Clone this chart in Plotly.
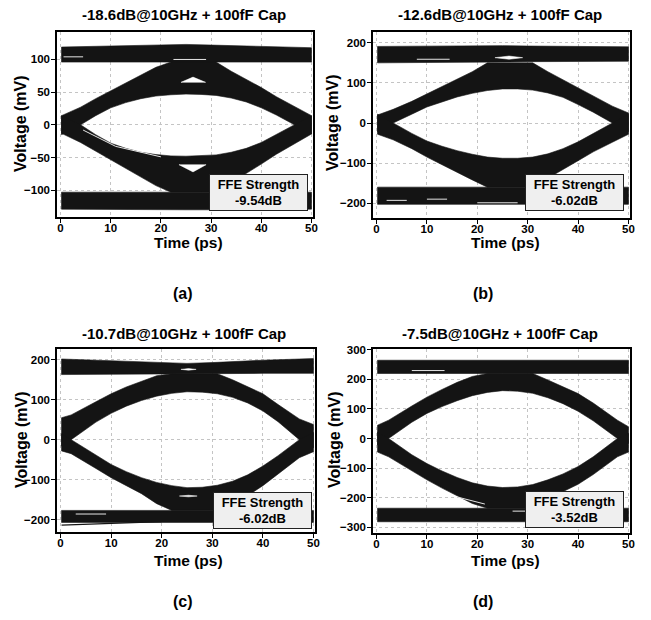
import plotly.graph_objects as go

W, H = 651, 620

# ---------------- data (mV vs ps) ----------------
TITLES = ["-18.6dB@10GHz + 100fF Cap", "-12.6dB@10GHz + 100fF Cap",
          "-10.7dB@10GHz + 100fF Cap", "-7.5dB@10GHz + 100fF Cap"]
FFE_VALUES = ["-9.54dB", "-6.02dB", "-6.02dB", "-3.52dB"]
PANEL_LABELS = ["(a)", "(b)", "(c)", "(d)"]
X_TICKS = [0, 10, 20, 30, 40, 50]
A_YTICKS = [-100, -50, 0, 50, 100]
B_YTICKS = [-200, -100, 0, 100, 200]
C_YTICKS = [-200, -100, 0, 100, 200]
D_YTICKS = [-300, -200, -100, 0, 100, 200, 300]

BAND_T = [0.2, 10, 20, 25, 30, 40, 50]

# Panel (a)
A_T = [0.2, 4, 7, 10, 13, 16, 19, 22, 25, 28, 31, 34, 37, 40, 43, 46.6, 50]
A_LID_TOP = [14, 27, 40, 52, 64, 76, 88, 96, 96, 96, 96, 82, 70, 57, 43, 28, 14]
A_EYE_TOP = [-15, 0, 14, 26, 34, 40, 44, 46, 47, 46.5, 45, 41, 35, 26, 15, 0, -14]
A_EYE_BOT = [14, 0, -15, -28, -36, -42, -45.5, -47.5, -48, -47.5, -46, -42, -36, -27, -15, 0, 14]
A_LID_BOT = [-13, -27, -40, -54, -67, -80, -93, -103, -103, -103, -103, -88, -74, -60, -45, -29, -14]
A_HI_TOP = [119, 121, 122, 123, 122, 120, 118]
A_HI_BOT = [96, 96, 96, 96, 96, 96, 96]
A_LO_TOP = [-103, -103, -103, -103, -103, -103, -103]
A_LO_BOT = [-129, -130, -130, -130, -130, -130, -129]
A_GAP_X = [[24.0, 26.4, 28.9], [23.6, 26.4, 29.0]]
A_GAP_Y = [[65, 73, 65], [-61, -72, -61]]
A_STREAK_T = [[0.6, 4.5], [22.5, 29], [4.5, 11, 20]]
A_STREAK_V = [[104, 104], [100, 100], [-8, -33, -49]]

# Panel (b)
B_T = [0.2, 3.3, 7, 10, 13, 16, 19, 22, 25, 28, 31, 34, 37, 40, 43, 46.8, 50]
B_LID_TOP = [20, 34, 54, 72, 90, 108, 128, 150, 150, 150, 150, 128, 108, 88, 66, 42, 25]
B_EYE_TOP = [-22, 0, 22, 40, 53, 65, 74, 81, 85, 85, 82, 75, 64, 46, 27, 0, -22]
B_EYE_BOT = [22, 0, -26, -45, -58, -69, -78, -85, -88, -88, -85, -77, -64, -47, -27, 0, 22]
B_LID_BOT = [-28, -42, -64, -85, -104, -122, -142, -160, -160, -160, -160, -138, -115, -94, -72, -48, -28]
B_HI_TOP = [191, 192, 193, 193, 192, 191, 190]
B_HI_BOT = [150, 151, 152, 152, 153, 154, 154]
B_LO_TOP = [-160, -160, -160, -160, -160, -160, -160]
B_LO_BOT = [-203, -203, -203, -203, -203, -203, -203]
B_GAP_X = [[23.5, 26.3, 29.0, 26.3]]
B_GAP_Y = [[163, 167, 163, 159]]
B_STREAK_T = [[8, 14.5], [2, 6], [10, 14], [20, 28]]
B_STREAK_V = [[159, 159], [-193, -193], [-190, -190], [-199, -199]]

# Panel (c)
C_T = [0.2, 2.1, 7, 10, 13, 16, 19, 22, 25, 28, 31, 34, 37, 40, 43, 47.2, 50]
C_LID_TOP = [55, 62, 95, 115, 132, 147, 160, 165, 165, 165, 165, 150, 133, 115, 88, 52, 38]
C_EYE_TOP = [-16, 0, 44, 66, 84, 98, 109, 116, 120, 119, 115, 106, 92, 72, 45, 0, -20]
C_EYE_BOT = [15, 0, -40, -62, -80, -95, -107, -115, -120, -119, -114, -104, -88, -66, -40, 0, 18]
C_LID_BOT = [-28, -35, -72, -95, -115, -135, -160, -177, -177, -177, -177, -160, -140, -115, -85, -45, -30]
C_HI_TOP = [202, 198, 193, 191, 193, 199, 203]
C_HI_BOT = [163, 163, 165, 165, 165, 166, 166]
C_LO_TOP = [-177, -177, -177, -177, -177, -177, -177]
C_LO_BOT = [-207, -207, -207, -207, -207, -207, -207]
C_TAIL_T = [0.2, 10, 20]
C_TAIL_V = [-214, -210, -205]
C_GAP_X = [[23.8, 25.3, 26.8, 25.3], [23.5, 25.3, 27.0, 25.3]]
C_GAP_Y = [[176, 178, 176, 174], [-141, -139, -141, -143]]
C_STREAK_T = [[3, 9], [33, 38]]
C_STREAK_V = [[-186, -186], [-195, -195]]

# Panel (d)
D_T = [0.2, 2.4, 7, 10, 13, 16, 19, 22, 25, 28, 31, 34, 37, 40, 43, 47.8, 50]
D_LID_TOP = [45, 62, 110, 140, 166, 190, 210, 220, 220, 220, 220, 198, 176, 152, 120, 62, 40]
D_EYE_TOP = [-22, 0, 55, 85, 108, 128, 145, 156, 162, 160, 153, 138, 118, 92, 60, 0, -17]
D_EYE_BOT = [22, 0, -55, -85, -110, -132, -150, -161, -166, -164, -156, -140, -120, -95, -62, 0, 17]
D_LID_BOT = [-46, -62, -110, -140, -168, -195, -220, -236, -236, -236, -236, -205, -180, -155, -122, -62, -46]
D_HI_TOP = [265, 265, 266, 266, 266, 265, 265]
D_HI_BOT = [220, 220, 220, 220, 220, 220, 220]
D_LO_TOP = [-236, -236, -236, -236, -236, -236, -236]
D_LO_BOT = [-282, -282, -282, -282, -282, -282, -282]
D_GAP_X = []
D_GAP_Y = []
D_STREAK_T = [[7, 13.5], [16, 21.5], [27, 31]]
D_STREAK_V = [[230, 230], [-198, -222], [-246, -246]]

# ---------------- layout geometry (pixels) ----------------
DOM_PX = [(57, 313, 32, 217), (373, 630, 32, 218),
          (57, 315, 349, 532), (373, 630, 349, 533)]
Y_RANGES = [[-141, 142], [-237, 227], [-231, 227], [-320, 303]]
X_RANGE = [-0.7, 50.3]
TITLE_POS = [(184, 15), (500, 15), (184, 333), (500, 333)]
YTITLE_POS = [(21, 124), (333, 123), (21, 440), (334, 440)]
XTITLE_POS = [(188, 243), (505, 243), (188, 560), (505, 560)]
LABEL_POS = [(183, 293), (483, 293), (183, 601), (483, 601)]
BOX_POS = [(258, 192), (574, 192), (262, 510), (574, 509)]

BLACK = "#141414"
FONT = "Liberation Sans, Arial, sans-serif"

panels = [
    (A_T, A_LID_TOP, A_EYE_TOP, A_EYE_BOT, A_LID_BOT, A_HI_TOP, A_HI_BOT, A_LO_TOP, A_LO_BOT,
     A_GAP_X, A_GAP_Y, A_STREAK_T, A_STREAK_V, A_YTICKS),
    (B_T, B_LID_TOP, B_EYE_TOP, B_EYE_BOT, B_LID_BOT, B_HI_TOP, B_HI_BOT, B_LO_TOP, B_LO_BOT,
     B_GAP_X, B_GAP_Y, B_STREAK_T, B_STREAK_V, B_YTICKS),
    (C_T, C_LID_TOP, C_EYE_TOP, C_EYE_BOT, C_LID_BOT, C_HI_TOP, C_HI_BOT, C_LO_TOP, C_LO_BOT,
     C_GAP_X, C_GAP_Y, C_STREAK_T, C_STREAK_V, C_YTICKS),
    (D_T, D_LID_TOP, D_EYE_TOP, D_EYE_BOT, D_LID_BOT, D_HI_TOP, D_HI_BOT, D_LO_TOP, D_LO_BOT,
     D_GAP_X, D_GAP_Y, D_STREAK_T, D_STREAK_V, D_YTICKS),
]

fig = go.Figure()


def band(t, upper, lower, xa, ya):
    xs = list(t) + list(t)[::-1] + [t[0]]
    ys = list(upper) + list(lower)[::-1] + [upper[0]]
    return go.Scatter(x=xs, y=ys, mode="lines", fill="toself", fillcolor=BLACK,
                      line=dict(color=BLACK, width=0.6),
                      xaxis=xa, yaxis=ya, hoverinfo="skip", showlegend=False)


def px2paper(x, y):
    return x / W, 1 - y / H


layout = dict(width=W, height=H, margin=dict(l=0, r=0, t=0, b=0),
              paper_bgcolor="white", plot_bgcolor="white", showlegend=False,
              template="none", annotations=[])

for i, p in enumerate(panels):
    (t, lid_top, eye_top, eye_bot, lid_bot, hi_top, hi_bot, lo_top, lo_bot,
     gx, gy, st, sv, yticks) = p
    k = "" if i == 0 else str(i + 1)
    xa, ya = "x" + k, "y" + k
    fig.add_trace(band(BAND_T, hi_top, hi_bot, xa, ya))
    fig.add_trace(band(BAND_T, lo_top, lo_bot, xa, ya))
    fig.add_trace(band(t, lid_top, eye_top, xa, ya))
    fig.add_trace(band(t, eye_bot, lid_bot, xa, ya))
    if i == 2:
        fig.add_trace(go.Scatter(x=C_TAIL_T, y=C_TAIL_V, mode="lines",
                                 line=dict(color=BLACK, width=1.2), xaxis=xa, yaxis=ya,
                                 hoverinfo="skip", showlegend=False))
    for gxs, gys in zip(gx, gy):
        fig.add_trace(go.Scatter(x=gxs + [gxs[0]], y=gys + [gys[0]], mode="lines", fill="toself",
                                 fillcolor="white", line=dict(color="white", width=0.5),
                                 xaxis=xa, yaxis=ya, hoverinfo="skip", showlegend=False))
    for sxs, sys_ in zip(st, sv):
        fig.add_trace(go.Scatter(x=sxs, y=sys_, mode="lines",
                                 line=dict(color="#e6e6e6", width=1),
                                 xaxis=xa, yaxis=ya, hoverinfo="skip", showlegend=False))

    x0, x1, y0, y1 = DOM_PX[i]
    axis_common = dict(showline=True, linecolor="black", linewidth=1.5, mirror=True,
                       ticks="outside", ticklen=4, tickwidth=1, tickcolor="black",
                       showgrid=True, gridcolor="#c4c4c4", griddash="dot", gridwidth=1,
                       zeroline=False, automargin=False,
                       tickfont=dict(family=FONT, size=11.5, color="black", weight="bold"))
    layout["xaxis" + k] = dict(axis_common, domain=[x0 / W, x1 / W], range=X_RANGE,
                               tickvals=X_TICKS, anchor=ya, ticklabelstandoff=-5)
    layout["yaxis" + k] = dict(axis_common, domain=[1 - y1 / H, 1 - y0 / H],
                               range=Y_RANGES[i], tickvals=yticks, anchor=xa,
                               ticklabelstandoff=-1)

    def ann(text, pos, size, **kw):
        px, py = px2paper(*pos)
        d = dict(text=text, x=px, y=py, xref="paper", yref="paper", showarrow=False,
                 xanchor="center", yanchor="middle",
                 font=dict(family=FONT, size=size, color="black", weight="bold"))
        d.update(kw)
        layout["annotations"].append(d)

    ann(TITLES[i], TITLE_POS[i], 15)
    ann("Voltage (mV)", YTITLE_POS[i], 16, textangle=-90)
    ann("Time (ps)", XTITLE_POS[i], 15.5)
    ann(PANEL_LABELS[i], LABEL_POS[i], 16)
    ann("FFE Strength<br>" + FFE_VALUES[i], BOX_POS[i], 13, bgcolor="#efefef",
        bordercolor="#222222", borderwidth=1, borderpad=1, width=95, height=33)

fig.update_layout(**layout)
fig.write_html("out.html", config={"displayModeBar": False},
               post_script="document.body.style.margin='0';")
